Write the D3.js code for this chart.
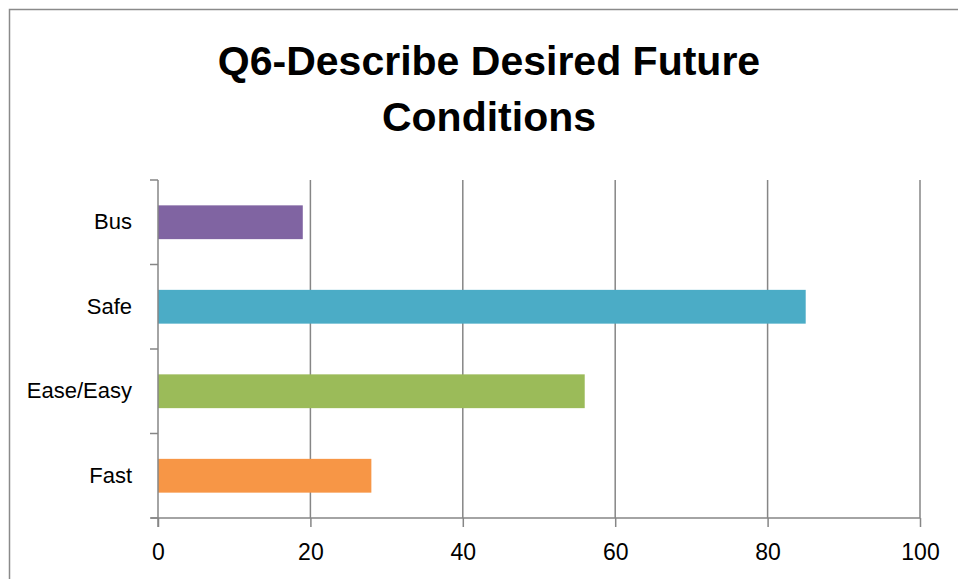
<!DOCTYPE html>
<html lang="en">
    <head>
        <meta charset="utf-8">
        <title>Q6 chart</title>
        <script src="https://d3js.org/d3.v7.min.js"></script>
        <style>
            body { margin: 0; background: #fff; }
            text { font-family: "Liberation Sans", Arial, sans-serif; }
        </style>
    </head>
    <body>
        <div id="chart"></div>
        <script>
            var categories = ["Bus", "Safe", "Ease/Easy", "Fast"];
            var values = [19, 85, 56, 28];
            var colors = ["#8064A2", "#4BACC6", "#9BBB59", "#F79646"];
            var xTicks = [0, 20, 40, 60, 80, 100];
            var titleLines = ["Q6-Describe Desired Future", "Conditions"];

            var W = 958, H = 579;
            var margin = {top: 180, right: 38, bottom: 61, left: 158};
            var width = W - margin.left - margin.right,
                height = H - margin.top - margin.bottom;

            var svg = d3.select("#chart")
                        .append("svg")
                        .attr("width", W)
                        .attr("height", H);

            // outer frame
            svg.append("rect")
                .attr("x", 9.5).attr("y", 9.5)
                .attr("width", W + 20).attr("height", H + 20)
                .attr("fill", "none")
                .attr("stroke", "#8a8a8a")
                .attr("stroke-width", 1.5);

            svg.selectAll(".title")
                .data(titleLines).enter()
                .append("text")
                .attr("x", 489)
                .attr("y", function(d, i) { return 75 + i * 56; })
                .attr("text-anchor", "middle")
                .style("font-weight", "bold")
                .style("font-size", "41px")
                .style("fill", "#000")
                .text(function(d) { return d; });

            var g = svg.append("g")
                       .attr("transform", "translate(" + margin.left + "," + margin.top + ")");

            var x = d3.scaleLinear().domain([0, 100]).range([0, width]);
            var y = d3.scaleBand().domain(categories).range([0, height])
                      .paddingInner(0.6).paddingOuter(0.3);

            // vertical gridlines
            g.selectAll(".grid")
                .data(xTicks.slice(1)).enter()
                .append("line")
                .attr("x1", function(d) { return x(d); })
                .attr("x2", function(d) { return x(d); })
                .attr("y1", 0).attr("y2", height)
                .attr("stroke", "#868686")
                .attr("stroke-width", 1.5);

            g.selectAll(".bar")
                .data(values).enter()
                .append("rect")
                .attr("x", x(0))
                .attr("y", function(d, i) { return y(categories[i]); })
                .attr("height", y.bandwidth())
                .attr("width", function(d) { return x(d) - x(0); })
                .attr("fill", function(d, i) { return colors[i]; });

            // x axis
            var xAxis = g.append("g")
                .attr("transform", "translate(0," + height + ")")
                .call(d3.axisBottom(x).tickValues(xTicks).tickSize(9).tickPadding(17));
            xAxis.select(".domain").attr("stroke", "#868686").attr("stroke-width", 1.5)
                .attr("d", "M-7,0H" + width);
            xAxis.selectAll(".tick line").attr("stroke", "#868686").attr("stroke-width", 1.5);
            xAxis.selectAll("text")
                .style("font-family", "Liberation Sans, Arial, sans-serif")
                .style("font-size", "23px")
                .style("fill", "#000");

            // y axis: labels at band centres, ticks at band boundaries
            var yAxis = g.append("g")
                .call(d3.axisLeft(y).tickSize(0).tickPadding(26));
            yAxis.select(".domain").attr("stroke", "#868686").attr("stroke-width", 1.5)
                .attr("d", "M0,0V" + (height + 9));
            yAxis.selectAll("text")
                .style("font-family", "Liberation Sans, Arial, sans-serif")
                .style("font-size", "22px")
                .style("fill", "#000");

            var bounds = d3.range(categories.length + 1).map(function(i) { return i * y.step(); });
            g.selectAll(".ytick")
                .data(bounds).enter()
                .append("line")
                .attr("x1", -8).attr("x2", 0)
                .attr("y1", function(d) { return d; })
                .attr("y2", function(d) { return d; })
                .attr("stroke", "#868686")
                .attr("stroke-width", 1.5);
        </script>
    </body>
</html>
